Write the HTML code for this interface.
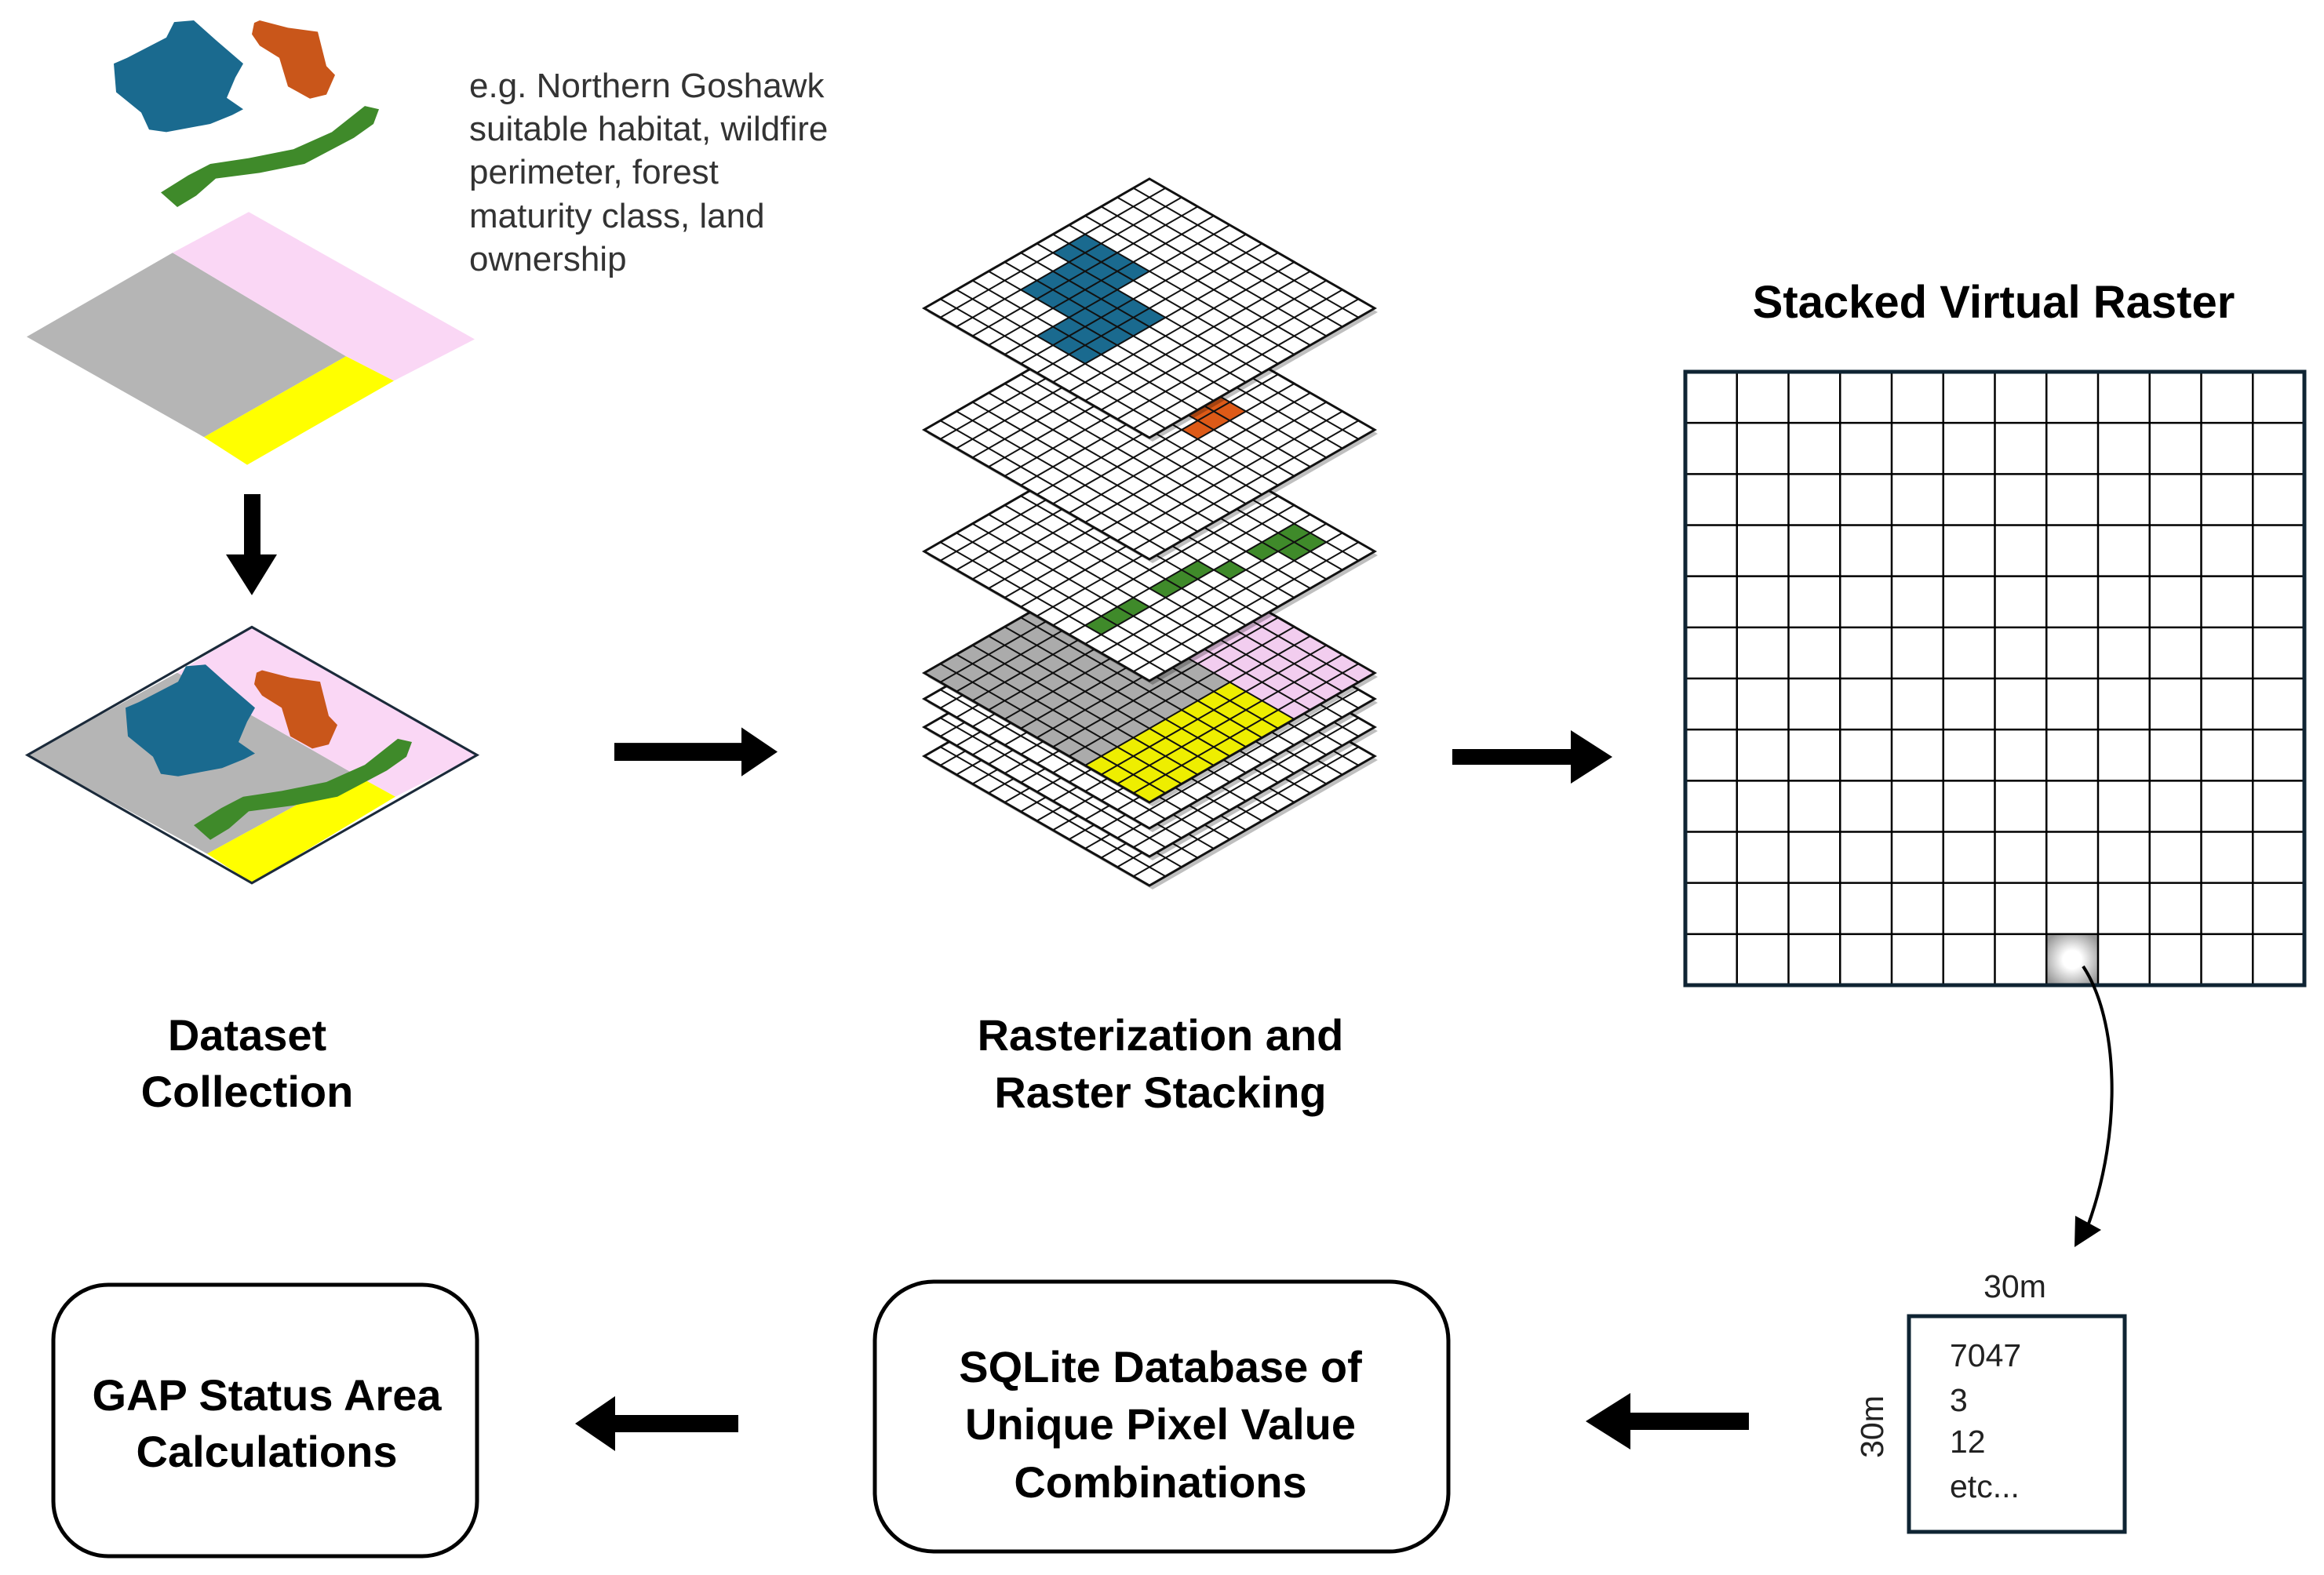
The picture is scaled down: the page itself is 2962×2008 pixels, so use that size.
<!DOCTYPE html>
<html><head><meta charset="utf-8"><style>
html,body{margin:0;padding:0;background:#fff;}
body{width:2962px;height:2008px;overflow:hidden;}
svg{display:block;}
.lbl{font-family:"Liberation Sans",sans-serif;font-weight:bold;font-size:56px;fill:#000;text-anchor:middle;}
.desc{font-family:"Liberation Sans",sans-serif;font-size:44px;fill:#333;}
.sm{font-family:"Liberation Sans",sans-serif;font-size:41px;fill:#222;}
</style></head><body>
<svg id="s" width="2962" height="2008" viewBox="0 0 2962 2008" xmlns="http://www.w3.org/2000/svg">
<defs>
<radialGradient id="cellg" cx="0.5" cy="0.5" r="0.6">
<stop offset="0.3" stop-color="#fff"/><stop offset="1" stop-color="#999"/></radialGradient>
</defs>

<g transform="scale(1,1.0396)">
<polygon fill="#1a6a8f" points="145,78 162,71 212,46 222,27 247,25 275,49 310,78 300,95 289,120 310,134 296,141 268,152 212,162 190,159 180,138 148,113"/>
<polygon fill="#c9561a" points="324,28 331,25 367,34 405,39 416,81 427,92 416,116 395,121 367,106 356,71 331,56 321,42"/>
<polygon fill="#3f8a2a" points="205,236 240,215 268,201 317,194 374,183 423,162 465,130 483,134 476,152 451,169 388,201 331,212 275,219 250,240 226,254"/>
<polygon fill="#b5b5b5" points="34,413 220,310 441,437 260,536"/>
<polygon fill="#fad7f5" points="220,310 317,260 605,416 502,467 441,437"/>
<polygon fill="#ffff00" points="441,437 502,467 315,570 260,536"/>
<polygon fill="#000" points="311,606 332,606 332,680 353,680 321,730 288,680 311,680"/>
<polygon fill="#b5b5b5" points="35,926 226,825 451,949 264,1047"/>
<polygon fill="#fad7f5" points="226,825 321,769 608,926 504,977 451,949"/>
<polygon fill="#ffff00" points="451,949 504,977 321,1083 264,1047"/>
<g transform="translate(15,790)"><polygon fill="#1a6a8f" points="145,78 162,71 212,46 222,27 247,25 275,49 310,78 300,95 289,120 310,134 296,141 268,152 212,162 190,159 180,138 148,113"/></g>
<g transform="translate(3,797)"><polygon fill="#c9561a" points="324,28 331,25 367,34 405,39 416,81 427,92 416,116 395,121 367,106 356,71 331,56 321,42"/></g>
<g transform="translate(42,776)"><polygon fill="#3f8a2a" points="205,236 240,215 268,201 317,194 374,183 423,162 465,130 483,134 476,152 451,169 388,201 331,212 275,219 250,240 226,254"/></g>
<polygon fill="none" stroke="#1b2a3a" stroke-width="3" points="35,926 321,769 608,926 321,1083"/>
<polygon fill="#000" points="783,911 945,911 945,892 991,922 945,952 945,933 783,933"/>
</g>

<text class="desc" x="598" y="124">e.g. Northern Goshawk</text>
<text class="desc" x="598" y="179">suitable habitat, wildfire</text>
<text class="desc" x="598" y="234">perimeter, forest</text>
<text class="desc" x="598" y="290">maturity class, land</text>
<text class="desc" x="598" y="345">ownership</text>

<g id="layers"></g>

<polygon fill="#000" points="1851,955 2002,955 2002,931 2055,965 2002,999 2002,975 1851,975"/>

<text class="lbl" x="2541" y="405" style="font-size:58px">Stacked Virtual Raster</text>
<g id="rgrid"></g>

<path d="M2655,1232 C2700,1300 2705,1440 2662,1560" fill="none" stroke="#000" stroke-width="4"/>
<polygon fill="#000" points="2644,1590 2645,1550 2678,1568"/>

<text class="lbl" x="315" y="1339">Dataset</text>
<text class="lbl" x="315" y="1411">Collection</text>
<text class="lbl" x="1479" y="1339">Rasterization and</text>
<text class="lbl" x="1479" y="1412">Raster Stacking</text>

<text class="sm" x="2568" y="1654" text-anchor="middle">30m</text>
<text class="sm" transform="translate(2400,1819) rotate(-90)" text-anchor="middle">30m</text>
<rect x="2433" y="1678" width="275" height="275" fill="#fff" stroke="#0f2433" stroke-width="5"/>
<text class="sm" x="2485" y="1742">7047</text>
<text class="sm" x="2485" y="1799">3</text>
<text class="sm" x="2485" y="1852">12</text>
<text class="sm" x="2485" y="1909">etc...</text>

<polygon fill="#000" points="2229,1801 2078,1801 2078,1776 2021,1812 2078,1848 2078,1823 2229,1823"/>
<polygon fill="#000" points="941,1804 784,1804 784,1780 733,1815 784,1850 784,1826 941,1826"/>

<rect x="1115" y="1634" width="731" height="344" rx="75" fill="#fff" stroke="#000" stroke-width="5"/>
<text class="lbl" x="1479" y="1762">SQLite Database of</text>
<text class="lbl" x="1479" y="1835">Unique Pixel Value</text>
<text class="lbl" x="1479" y="1909">Combinations</text>
<rect x="68" y="1638" width="540" height="346" rx="70" fill="#fff" stroke="#000" stroke-width="5"/>
<text class="lbl" x="340" y="1798">GAP Status Area</text>
<text class="lbl" x="340" y="1870">Calculations</text>
</svg>
<script>
(function(){
var NS="http://www.w3.org/2000/svg";
function el(t,a,p){var e=document.createElementNS(NS,t);for(var k in a)e.setAttribute(k,a[k]);p.appendChild(e);return e;}
var g=document.getElementById("rgrid");
var x0=2148,y0=474,x1=2937,y1=1256,n=12,cw=(x1-x0)/n,ch=(y1-y0)/n;
el("rect",{x:x0+7*cw,y:y0+11*ch,width:cw,height:ch,fill:"url(#cellg)"},g);
for(var i=1;i<n;i++){
el("line",{x1:x0+i*cw,y1:y0,x2:x0+i*cw,y2:y1,stroke:"#000","stroke-width":2.5},g);
el("line",{x1:x0,y1:y0+i*ch,x2:x1,y2:y0+i*ch,stroke:"#000","stroke-width":2.5},g);}
el("rect",{x:x0,y:y0,width:x1-x0,height:y1-y0,fill:"none",stroke:"#0f2433","stroke-width":5},g);
var L=document.getElementById("layers");
var cx=1465,hw=287,hh=165,N=14;
function P(u,v,cy){return [cx+(u-v)*hw/N, cy-hh+(u+v)*hh/N];}
function quad(u,v,cy){return [P(u,v,cy),P(u+1,v,cy),P(u+1,v+1,cy),P(u,v+1,cy)].join(" ");}
function layer(cy,colorFn){
var gg=el("g",{},L);
var pts=[P(0,0,cy),P(N,0,cy),P(N,N,cy),P(0,N,cy)].join(" ");
el("polygon",{points:pts,transform:"translate(4,5)",style:"fill:#000;opacity:0.25"},gg);
el("polygon",{points:pts,fill:"#fff"},gg);
for(var u=0;u<N;u++)for(var v=0;v<N;v++){var c=colorFn(u,v);if(c)el("polygon",{points:quad(u,v,cy),fill:c},gg);}
for(var i=0;i<=N;i++){
var a=P(i,0,cy),b=P(i,N,cy);el("line",{x1:a[0],y1:a[1],x2:b[0],y2:b[1],stroke:"#111","stroke-width":2},gg);
a=P(0,i,cy);b=P(N,i,cy);el("line",{x1:a[0],y1:a[1],x2:b[0],y2:b[1],stroke:"#111","stroke-width":2},gg);}
el("polygon",{points:pts,fill:"none",stroke:"#111","stroke-width":3},gg);
}
function none(){return null;}
layer(964,none);layer(927,none);layer(891,none);
layer(858,function(u,v){ if(u>=7&&v<=4)return "#f2cdef"; if(u>=10&&v>=5&&v<=13)return "#eeee00"; return "#ababab";});
layer(703,function(u,v){
 if((u==10||u==11)&&v>=1&&v<=2)return "#3f8a2a";
 if(u==10&&v>=3&&v<=5&&v!=4)return "#3f8a2a";
 if(u==9&&v>=6&&v<=12&&v!=9)return "#3f8a2a";
 return null;});
layer(548,function(u,v){ if((u==7||u==8)&&(v==3||v==4))return "#dd5a17"; if(u==8&&v==5)return "#dd5a17"; return null;});
layer(393,function(u,v){
 if(u>=1&&u<=4&&v>=5&&v<=6)return "#1a6a8f";
 if(u>=2&&u<=7&&v>=7&&v<=9)return "#1a6a8f";
 if(u>=5&&u<=7&&v>=10&&v<=11)return "#1a6a8f";
 return null;});
})();
</script>
</body></html>
